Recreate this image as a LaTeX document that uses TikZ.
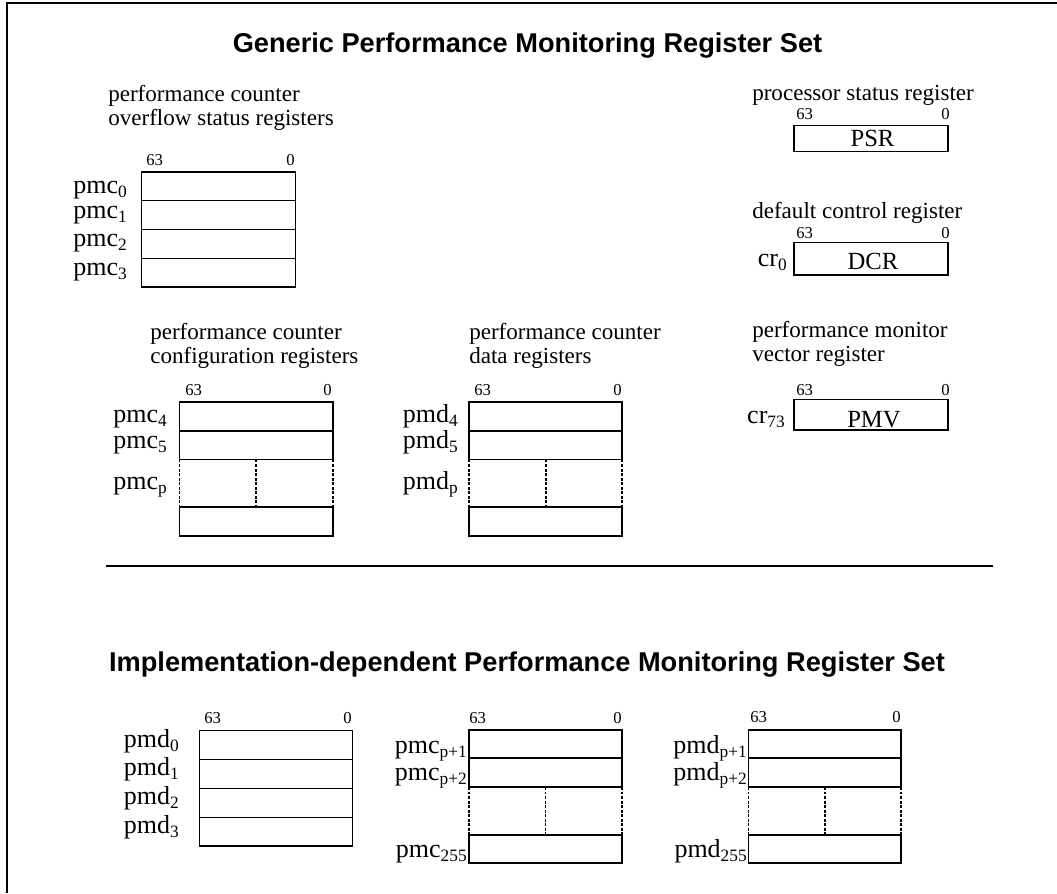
\documentclass[tikz,border=0pt]{standalone}
\usepackage{fontspec}
\setmainfont{Liberation Serif}
\newfontfamily\headfont{Liberation Sans}
\newcommand\regsub[1]{\raisebox{-3.3pt}{\fontsize{13}{15}\selectfont#1}}
\begin{document}
\begin{tikzpicture}[x=0.75pt,y=-0.75pt,
  regbox/.style={line width=0.9pt},
  slotdash/.style={line width=0.9pt,dash pattern=on 2.2pt off 1.2pt},
  head/.style={font=\headfont\bfseries\fontsize{20.4}{24}\selectfont,anchor=base,inner sep=0pt},
  caption/.style={font=\fontsize{17.3}{20}\selectfont,anchor=base west,inner sep=0pt},
  regname/.style={font=\fontsize{19.5}{22}\selectfont,anchor=base east,inner sep=0pt},
  bitno/.style={font=\fontsize{12.5}{14}\selectfont,inner sep=0pt},
  field/.style={font=\fontsize{18.5}{22}\selectfont,anchor=base,inner sep=0pt}]
\useasboundingbox (0,0) rectangle (1057,893);
\draw[line width=1.4pt] (7,893) -- (7,3) -- (1057,3);
\node[head] (gentitle) at (527.5,52) {Generic Performance Monitoring Register Set};
\node[head] (imptitle) at (527,671) {Implementation-dependent Performance Monitoring Register Set};
\draw[line width=2.1pt] (106,566) -- (993,566);
\node[caption] (ovfcap1) at (108,101.5) {performance counter};
\node[caption] (ovfcap2) at (108,125) {overflow status registers};
\node[bitno,anchor=base west] (ovfhi) at (146,165) {63};
\node[bitno,anchor=base east] (ovflo) at (295,165) {0};
\draw[regbox] (141.5,172) rectangle (295.5,287);
\foreach \y in {200.5,229.5,258.5} \draw[regbox] (141.5,\y) -- (295.5,\y);
\node[regname] (pmc0) at (127,193.5) {pmc\regsub{0}};
\node[regname] (pmc1) at (127,218) {pmc\regsub{1}};
\node[regname] (pmc2) at (127,246) {pmc\regsub{2}};
\node[regname] (pmc3) at (127,275) {pmc\regsub{3}};
\node[caption] (psrcap) at (752,100) {processor status register};
\node[bitno,anchor=base west] (psrhi) at (796,119) {63};
\node[bitno,anchor=base east] (psrlo) at (950,119) {0};
\draw[regbox] (794,125.5) rectangle (948,151.5);
\node[field] (psr) at (872.5,146.5) {PSR};
\node[caption] (dcrcap) at (752,218) {default control register};
\node[bitno,anchor=base west] (dcrhi) at (796,238) {63};
\node[bitno,anchor=base east] (dcrlo) at (950,238) {0};
\draw[regbox] (794,242.5) rectangle (948,275);
\node[field] (dcr) at (873,269.5) {DCR};
\node[regname] (cr0) at (787,266.5) {cr\regsub{0}};
\node[caption] (pmvcap1) at (752,337) {performance monitor};
\node[caption] (pmvcap2) at (752,361) {vector register};
\node[bitno,anchor=base west] (pmvhi) at (796,395) {63};
\node[bitno,anchor=base east] (pmvlo) at (950,395) {0};
\draw[regbox] (794,399.5) rectangle (948,430);
\node[field] (pmv) at (874,427.5) {PMV};
\node[regname] (cr73) at (785,423) {cr\regsub{73}};
\node[caption] (cfgcap1) at (150,339) {performance counter};
\node[caption] (cfgcap2) at (150,363) {configuration registers};
\node[bitno,anchor=base west] (cfghi) at (185,395) {63};
\node[bitno,anchor=base east] (cfglo) at (332,395) {0};
\draw[regbox] (179.5,402) rectangle (333,459.5);
\draw[regbox] (179.5,431) -- (333,431);
\draw[slotdash] (179.5,459.5) -- (179.5,507) (256,459.5) -- (256,507) (333,459.5) -- (333,507);
\draw[regbox] (179.5,507) rectangle (333,536);
\node[regname] (pmc4) at (167,422) {pmc\regsub{4}};
\node[regname] (pmc5) at (167,448) {pmc\regsub{5}};
\node[regname] (pmcp) at (167,489) {pmc\regsub{p}};
\node[caption] (datcap1) at (469,339) {performance counter};
\node[caption] (datcap2) at (469,363) {data registers};
\node[bitno,anchor=base west] (dathi) at (474,395) {63};
\node[bitno,anchor=base east] (datlo) at (622,395) {0};
\draw[regbox] (469,402) rectangle (622,459.5);
\draw[regbox] (469,431) -- (622,431);
\draw[slotdash] (469,459.5) -- (469,507) (546,459.5) -- (546,507) (622,459.5) -- (622,507);
\draw[regbox] (469,507) rectangle (622,536);
\node[regname] (pmd4) at (458,422) {pmd\regsub{4}};
\node[regname] (pmd5) at (458,448) {pmd\regsub{5}};
\node[regname] (pmdp) at (458,489) {pmd\regsub{p}};
\node[bitno,anchor=base west] (lowhi) at (204,723) {63};
\node[bitno,anchor=base east] (lowlo) at (352,723) {0};
\draw[regbox] (199.5,730.5) rectangle (352.5,846);
\foreach \y in {759.5,788.5,817.5} \draw[regbox] (199.5,\y) -- (352.5,\y);
\node[regname] (pmd0) at (179,747) {pmd\regsub{0}};
\node[regname] (pmd1) at (179,775) {pmd\regsub{1}};
\node[regname] (pmd2) at (179,804) {pmd\regsub{2}};
\node[regname] (pmd3) at (179,833) {pmd\regsub{3}};
\node[bitno,anchor=base west] (impchi) at (469,723) {63};
\node[bitno,anchor=base east] (impclo) at (622,723) {0};
\draw[regbox] (469,730) rectangle (622,787);
\draw[regbox] (469,758) -- (622,758);
\draw[slotdash] (469,787) -- (469,835) (545.5,787) -- (545.5,835) (622,787) -- (622,835);
\draw[regbox] (469,835) rectangle (622,863);
\node[regname] (pmcq1) at (467,753) {pmc\regsub{p+1}};
\node[regname] (pmcq2) at (467,780) {pmc\regsub{p+2}};
\node[regname] (pmclast) at (467,857) {pmc\regsub{255}};
\node[bitno,anchor=base west] (impdhi) at (750,722) {63};
\node[bitno,anchor=base east] (impdlo) at (901,722) {0};
\draw[regbox] (748.5,730) rectangle (901,787);
\draw[regbox] (748.5,758) -- (901,758);
\draw[slotdash] (748.5,787) -- (748.5,835) (825,787) -- (825,835) (901,787) -- (901,835);
\draw[regbox] (748.5,835) rectangle (901,863);
\node[regname] (pmdq1) at (747,753) {pmd\regsub{p+1}};
\node[regname] (pmdq2) at (747,780) {pmd\regsub{p+2}};
\node[regname] (pmdlast) at (747,857) {pmd\regsub{255}};
\end{tikzpicture}
\end{document}
